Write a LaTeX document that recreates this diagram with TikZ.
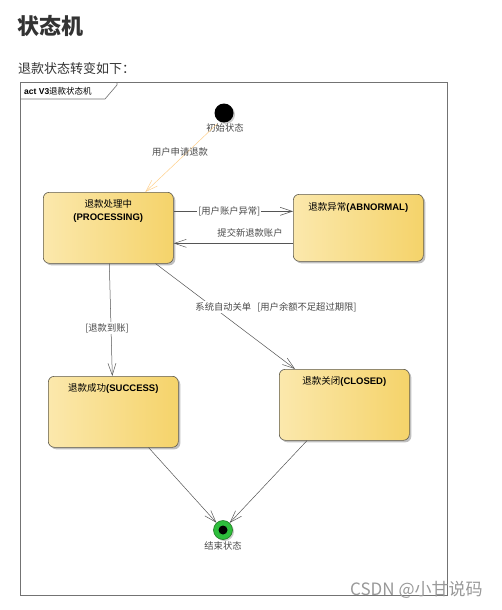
\documentclass[tikz,border=0pt]{standalone}
\usepackage{fontspec}
\setmainfont{Liberation Sans}
\newfontfamily\cjk{Noto Sans CJK SC}
\usetikzlibrary{arrows.meta,shadows,calc}
\definecolor{boxL}{HTML}{FBE8AC}
\definecolor{boxR}{HTML}{F5D36A}
\definecolor{boxline}{HTML}{5E5A4E}
\definecolor{linegray}{HTML}{555555}
\definecolor{initline}{HTML}{FFD08A}
\definecolor{txtgray}{HTML}{333333}
\definecolor{lblgray}{HTML}{4A4A4A}
\definecolor{endgreen}{HTML}{2EBE3C}
\definecolor{endline}{HTML}{1F7A22}
\begin{document}
\begin{tikzpicture}[x=1pt,y=-1pt,
  statebox/.style={draw=boxline, line width=0.6pt, rounded corners=6pt,
    left color=boxL, right color=boxR,
    drop shadow={shadow xshift=2pt,shadow yshift=-2pt,opacity=0.25,fill=black},
    minimum width=130pt, minimum height=71pt, anchor=north west, inner sep=0pt},
  boxtext/.style={anchor=north, inner sep=0pt, align=center, text=black,
    font=\fontsize{9.5}{13}\selectfont},
  arr/.style={draw=linegray, line width=0.5pt,
    -{Straight Barb[length=12pt,width=8pt,line width=0.5pt]}},
  elabel/.style={text=lblgray, inner sep=1pt, fill=white,
    font=\cjk\fontsize{9.3}{11}\selectfont},
  slabel/.style={text=lblgray, inner sep=0pt,
    font=\cjk\fontsize{9.3}{11}\selectfont},
]
\useasboundingbox (0,0) rectangle (501,610);
\fill[white] (0,0) rectangle (501,610);

% headings
\node[anchor=west, inner sep=0pt, text=txtgray, font=\cjk\bfseries\fontsize{22}{24}\selectfont] (title) at (17,26) {状态机};
\node[anchor=west, inner sep=0pt, text=txtgray, font=\cjk\fontsize{13}{15}\selectfont] (sub) at (18,69) {退款状态转变如下：};

% frame
\draw[draw=gray!90!black, line width=0.7pt] (20,82) rectangle (447,595);
\draw[draw=gray!90!black, line width=0.6pt] (20,99) -- (105,99) -- (117,85) -- (117,82);
\node[anchor=west, inner sep=0pt, font=\fontsize{8.5}{10}\selectfont] (tab) at (24,91) {\textbf{act V3}{\cjk 退款状态机}};

% states
\node[circle, fill=black, minimum size=19pt, inner sep=0pt,
  drop shadow={shadow xshift=1.5pt,shadow yshift=-1.5pt,opacity=0.2,fill=black}] (init) at (224,113) {};
\node[slabel, fill=none] (initl) at (225,128) {初始状态};

\node[statebox] (proc) at (43,192) {};
\node[boxtext] (proct) at ($(proc.north)+(0,7)$) {{\cjk 退款处理中}\\\textbf{(PROCESSING)}};

\node[statebox, minimum height=67pt] (abn) at (293,194) {};
\node[boxtext] (abnt) at ($(abn.north)+(0,8)$) {{\cjk 退款异常}\textbf{(ABNORMAL)}};

\node[statebox] (succ) at (48,376) {};
\node[boxtext] (succt) at ($(succ.north)+(0,7)$) {{\cjk 退款成功}\textbf{(SUCCESS)}};

\node[statebox] (clos) at (279,369) {};
\node[boxtext] (clost) at ($(clos.north)+(0,7)$) {{\cjk 退款关闭}\textbf{(CLOSED)}};

\node[circle, draw=endline, line width=0.6pt, fill=endgreen, minimum size=19pt, inner sep=0pt,
  drop shadow={shadow xshift=1.5pt,shadow yshift=-1.5pt,opacity=0.2,fill=black}] (fin) at (223,530) {};
\node[circle, fill=black, minimum size=9pt, inner sep=0pt] (finc) at (fin) {};
\node[slabel] (finl) at (223,546) {结束状态};

% transitions
\coordinate (i1) at ($(init)+(-7,11)$);
\coordinate (p1) at ($(proc.north)+(37,0)$);
\draw[arr, draw=initline, -{Straight Barb[length=12pt,width=8pt,line width=0.5pt,color=initline]}] (i1) -- (p1);
\node[slabel] (l1) at (180,152) {用户申请退款};

\coordinate (pa) at ($(proc.north east)!0.27!(proc.south east)$);
\draw[arr] (pa) -- (abn.west |- pa) node[elabel, midway, xshift=-4pt] (l2) {[用户账户异常]};

\coordinate (ap) at ($(abn.north west)!0.73!(abn.south west)$);
\draw[arr] (ap) -- (proc.east |- ap);
\node[slabel] (l3) at (250,233) {提交新退款账户};

\coordinate (ps) at ($(proc.south)+(1,0)$);
\coordinate (sp) at ($(succ.north)+(-1,0)$);
\draw[arr] (ps) -- (sp);
\node[elabel] (l4) at (107,328) {[退款到账]};

\coordinate (pc) at ($(proc.south east)+(-18,0)$);
\coordinate (cp) at ($(clos.north west)+(16,0)$);
\draw[arr] (pc) -- (cp);
\node[elabel] (l5) at (276,307) {系统自动关单\hspace{6pt}[用户余额不足超过期限]};

\coordinate (sf) at ($(succ.south east)+(-30,0)$);
\draw[arr] (sf) -- (fin);
\coordinate (cf) at ($(clos.south west)+(28,0)$);
\draw[arr] (cf) -- (fin);

% watermark
\node[anchor=west, inner sep=0pt, text=gray!80, font=\cjk\fontsize{17}{19}\selectfont] (wm) at (350,590) {CSDN @小甘说码};
\end{tikzpicture}
\end{document}
